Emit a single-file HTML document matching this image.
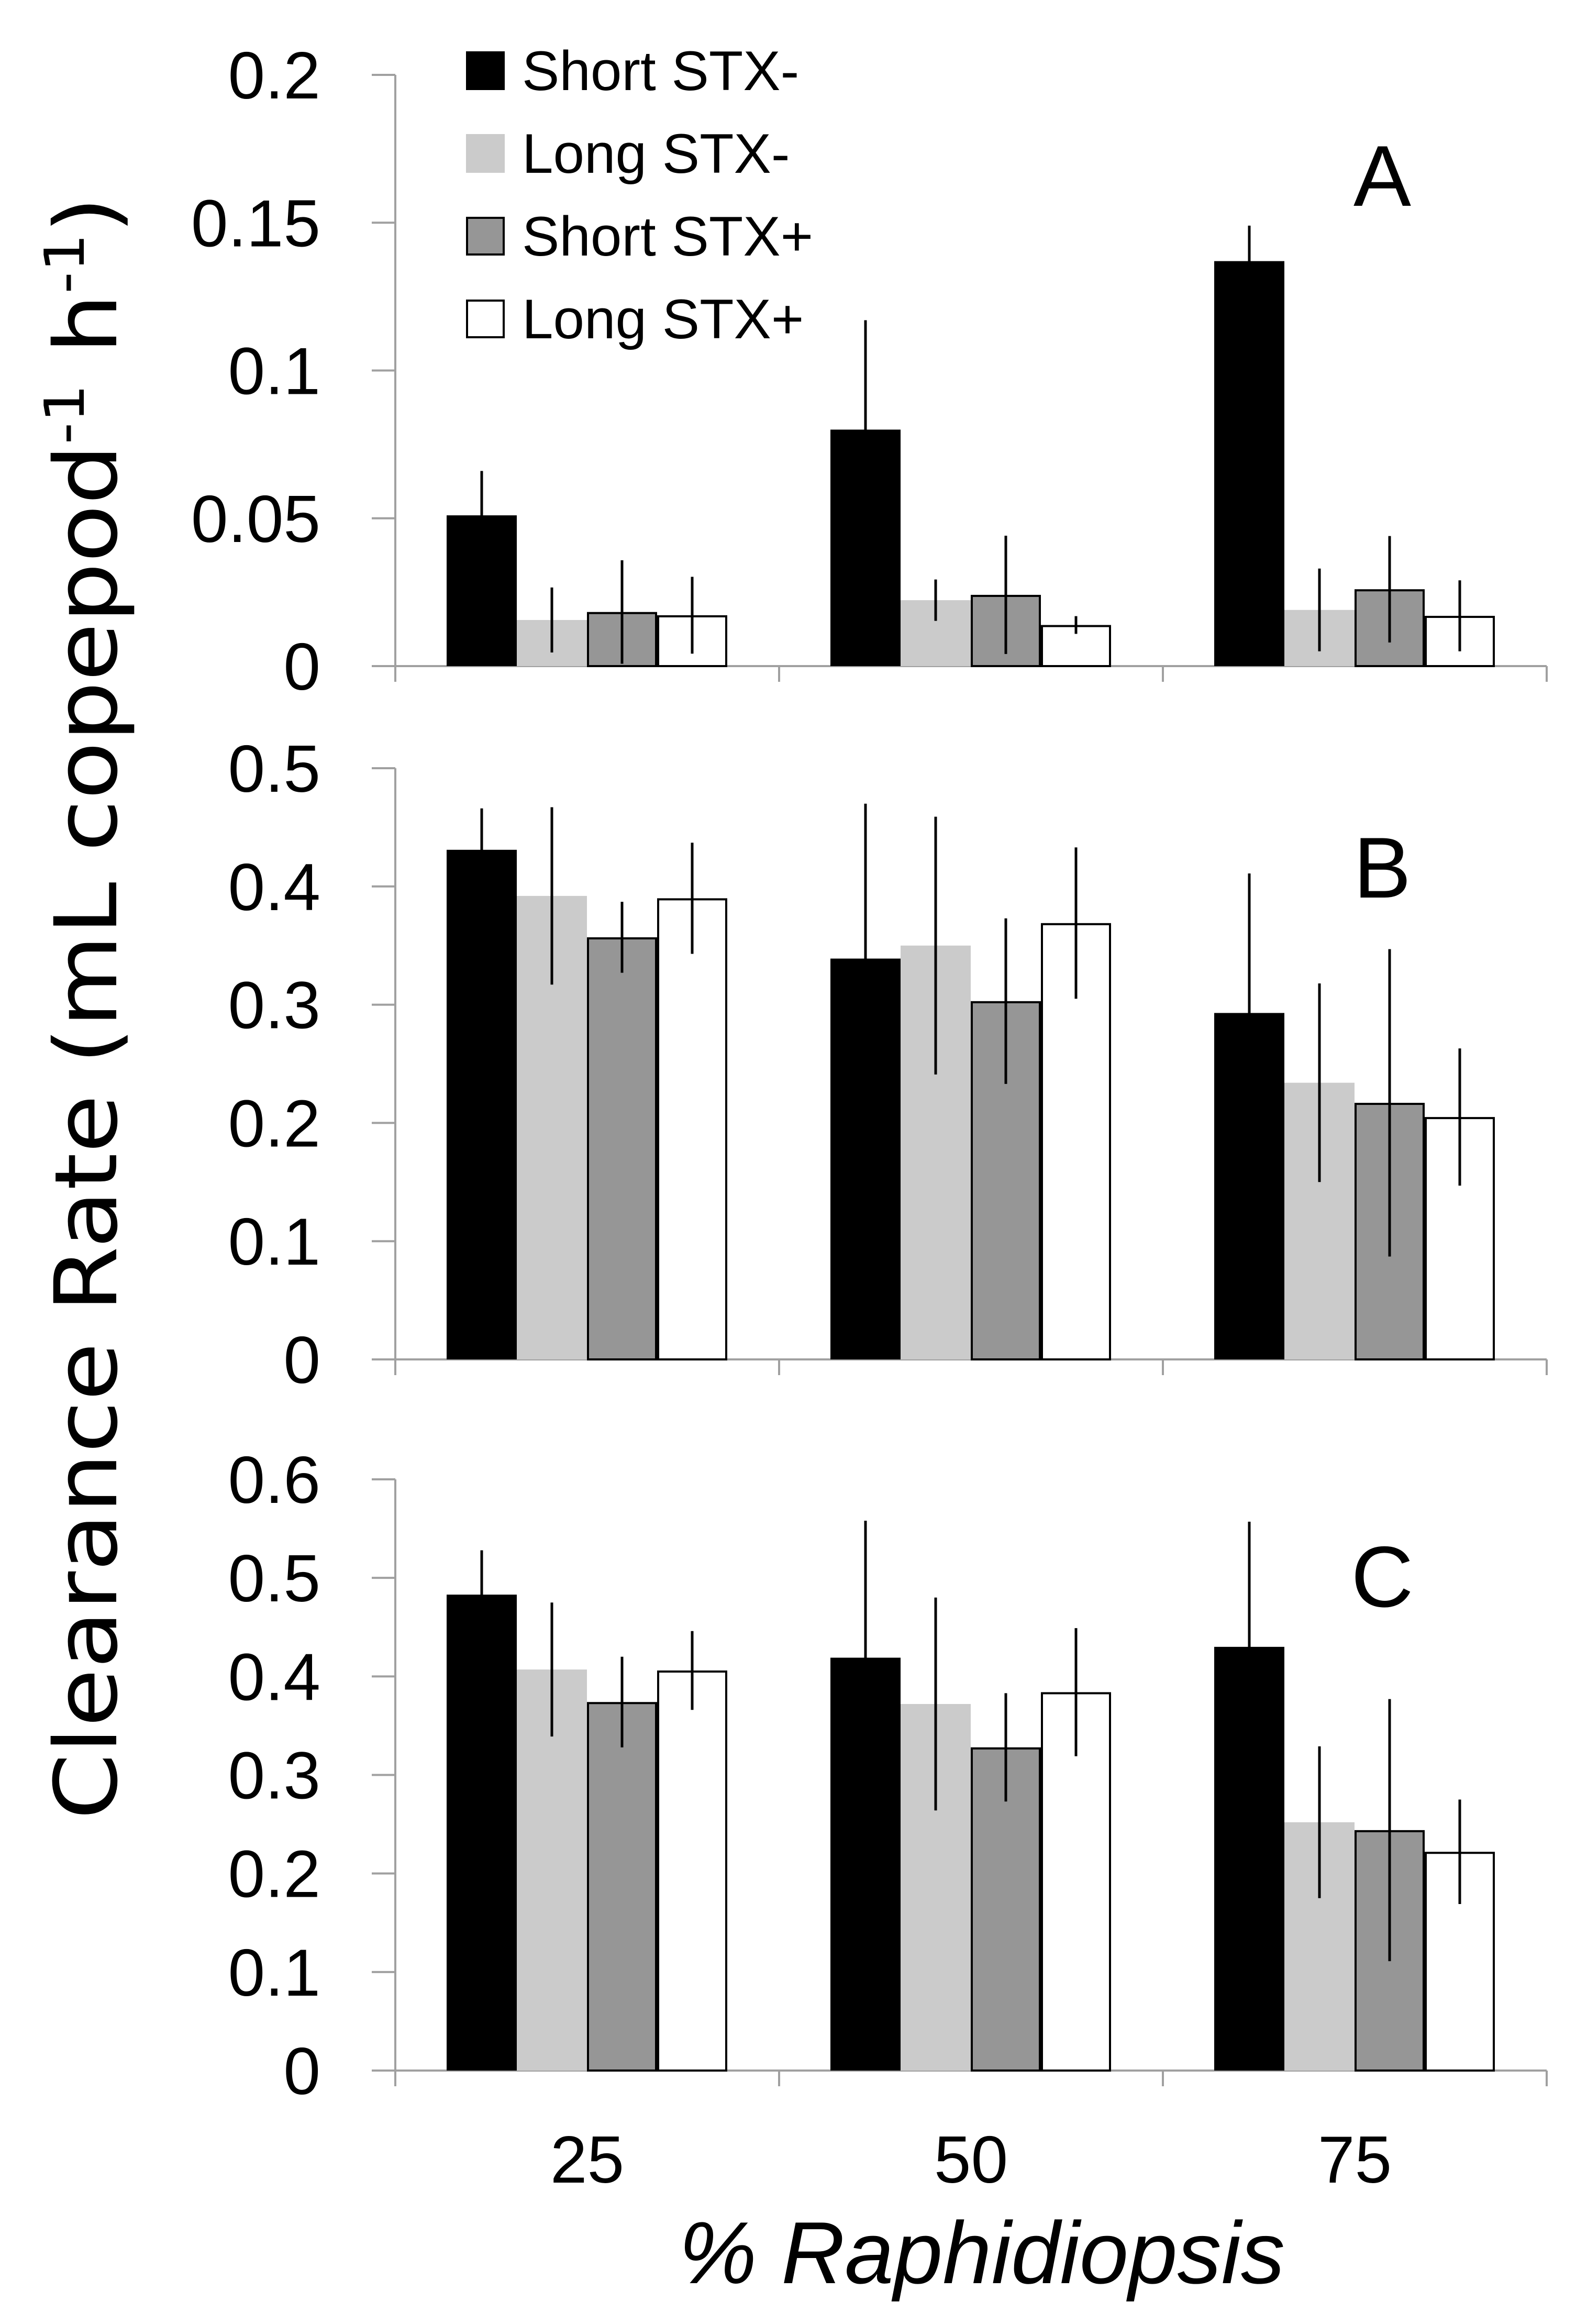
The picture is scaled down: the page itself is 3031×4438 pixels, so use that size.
<!DOCTYPE html>
<html><head><meta charset="utf-8"><style>
html,body{margin:0;padding:0;background:#fff}
svg{display:block}
text{font-family:"Liberation Sans",sans-serif;fill:#000}
</style></head><body>
<svg id="chart" width="3031" height="4438" viewBox="0 0 3031 4438" xmlns="http://www.w3.org/2000/svg">
<text transform="translate(222,1925) rotate(-90)" text-anchor="middle" font-size="165" textLength="3100" lengthAdjust="spacingAndGlyphs" style="font-family:'DejaVu Sans',sans-serif">Clearance Rate (mL copepod<tspan font-size="105" dy="-62">-1</tspan><tspan dy="62"> h</tspan><tspan font-size="105" dy="-62">-1</tspan><tspan dy="62">)</tspan></text>
<g id="legend">
<rect x="890" y="98" width="74" height="74" fill="#000"/>
<text x="997" y="172" font-size="107">Short STX-</text>
<rect x="890" y="256" width="74" height="74" fill="#cbcbcb"/>
<text x="997" y="330" font-size="107">Long STX-</text>
<rect x="892" y="416" width="70" height="70" fill="#969696" stroke="#000" stroke-width="4"/>
<text x="997" y="488" font-size="107">Short STX+</text>
<rect x="892" y="574" width="70" height="70" fill="#fff" stroke="#000" stroke-width="4"/>
<text x="997" y="646" font-size="107">Long STX+</text>
</g>
<text x="1875" y="4360" text-anchor="middle" font-size="168" font-style="italic">% Raphidiopsis</text>
</svg>
<script>
const categories = ["25", "50", "75"];
const seriesNames = ["Short STX-", "Long STX-", "Short STX+", "Long STX+"];
const valuesA = [[0.051, 0.080, 0.137], [0.0156, 0.0223, 0.019], [0.0183, 0.0241, 0.026], [0.0172, 0.0139, 0.017]];
const errorsA = [[0.015, 0.037, 0.012], [0.011, 0.007, 0.014], [0.0175, 0.020, 0.018], [0.013, 0.003, 0.012]];
const valuesB = [[0.431, 0.339, 0.293], [0.392, 0.350, 0.234], [0.357, 0.303, 0.217], [0.390, 0.369, 0.205]];
const errorsB = [[0.035, 0.131, 0.118], [0.075, 0.109, 0.084], [0.030, 0.070, 0.130], [0.047, 0.064, 0.058]];
const valuesC = [[0.483, 0.419, 0.430], [0.407, 0.372, 0.252], [0.374, 0.328, 0.244], [0.406, 0.384, 0.222]];
const errorsC = [[0.045, 0.139, 0.127], [0.068, 0.108, 0.077], [0.046, 0.055, 0.133], [0.040, 0.065, 0.053]];
const ticksA = ["0", "0.05", "0.1", "0.15", "0.2"];
const ticksB = ["0", "0.1", "0.2", "0.3", "0.4", "0.5"];
const ticksC = ["0", "0.1", "0.2", "0.3", "0.4", "0.5", "0.6"];
const panelLetters = ["A", "B", "C"];

const NS = "http://www.w3.org/2000/svg";
const svg = document.getElementById("chart");
const fills = ["#000", "#cbcbcb", "#969696", "#fff"];
const strokes = ["none", "none", "#000", "#000"];
const X0 = 755, GW = 733, OFF = 98, BW = 134;
function xPos(ci, si) { return X0 + ci * GW + OFF + si * BW; }
function mk(tag, attrs) { const e = document.createElementNS(NS, tag); for (const k in attrs) e.setAttribute(k, attrs[k]); svg.appendChild(e); return e; }

function panel(idx, top, zero, ticks, values, errors, letterY) {
  const maxV = parseFloat(ticks[ticks.length - 1]);
  const y = v => zero - (v / maxV) * (zero - top);
  const xEnd = X0 + 3 * GW;
  ticks.forEach((t) => {
    const yy = y(parseFloat(t));
    const tk = mk("line", {x1: 710, x2: X0, y1: yy, y2: yy, stroke: "#a0a0a0", "stroke-width": 4});
    
    
    const tl = mk("text", {x: 612, y: yy + 45, "text-anchor": "end", "font-size": 127});
    tl.textContent = t;
    
    
  });
  const ya = mk("line", {x1: X0, x2: X0, y1: top, y2: zero + 30, stroke: "#a0a0a0", "stroke-width": 4});
  
  
  const xa = mk("line", {x1: X0, x2: xEnd, y1: zero, y2: zero, stroke: "#a0a0a0", "stroke-width": 4});
  
  
  for (let i = 1; i <= 3; i++) {
    const d = mk("line", {x1: X0 + i * GW, x2: X0 + i * GW, y1: zero, y2: zero + 30, stroke: "#a0a0a0", "stroke-width": 4});
    
    
  }
  for (let si = 0; si < 4; si++) {
    for (let ci = 0; ci < 3; ci++) {
      const v = values[si][ci], e = errors[si][ci];
      const bx = xPos(ci, si);
      const sw = strokes[si] === "none" ? 0 : 4;
      const r = mk("rect", {x: bx + sw / 2, y: y(v) + sw / 2, width: BW - sw, height: zero - y(v) - sw / 2, fill: fills[si], stroke: strokes[si], "stroke-width": sw});
      
      
      const cx = bx + BW / 2;
      const eb = mk("line", {x1: cx, x2: cx, y1: y(v + e), y2: y(Math.max(0, v - e)), stroke: "#000", "stroke-width": 5});
      
      
    }
  }
  const L = mk("text", {x: 2640, y: letterY, "text-anchor": "middle", "font-size": 165});
  L.textContent = panelLetters[idx];
  
  
}
panel(0, 143, 1272, ticksA, valuesA, errorsA, 393);
panel(1, 1467, 2596, ticksB, valuesB, errorsB, 1714);
panel(2, 2825, 3954, ticksC, valuesC, errorsC, 3068);
categories.forEach((c, ci) => {
  const t = mk("text", {x: X0 + ci * GW + GW / 2, y: 4168, "text-anchor": "middle", "font-size": 127});
  t.textContent = c;
  
  
});
</script>
</body></html>
